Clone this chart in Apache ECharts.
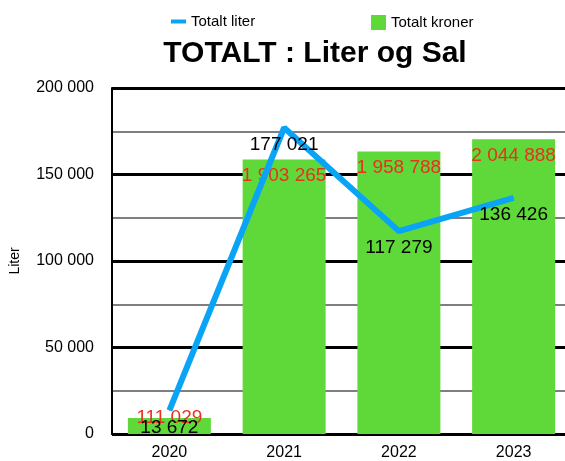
<!DOCTYPE html>
<html><head><meta charset="utf-8">
<script src="https://cdn.jsdelivr.net/npm/echarts@6/dist/echarts.min.js"></script>
<style>html,body{margin:0;padding:0;background:#fff;overflow:hidden}#c{width:571px;height:461px}</style>
</head><body><div id="c"></div>
<script>
const categories = ['2020', '2021', '2022', '2023'];
const literValues = [13672, 177021, 117279, 136426];
const kronerValues = [111029, 1903265, 1958788, 2044888];
const literTicks = [0, 50000, 100000, 150000, 200000];

const fmt = v => String(Math.round(v)).replace(/\B(?=(\d{3})+(?!\d))/g, ' ');
const FONT = 'Liberation Sans, Arial, Helvetica, sans-serif';

const kronerData = kronerValues.map((v, i) => i === 0
  ? { value: v, label: { position: 'top', distance: -9 } }
  : v);

const chart = echarts.init(document.getElementById('c'));
chart.setOption({
  animation: false,
  textStyle: { fontFamily: FONT },
  title: {
    text: 'TOTALT : Liter og Sal',
    left: 310, top: 34, textAlign: 'center',
    textStyle: { fontSize: 30, fontWeight: 'bold', color: '#000', fontFamily: FONT }
  },
  legend: [
    { data: ['Totalt liter'], left: 166, top: 9, icon: 'rect', itemWidth: 15, itemHeight: 4, itemGap: 8,
      textStyle: { fontSize: 15, color: '#000', fontFamily: FONT } },
    { data: ['Totalt kroner'], left: 366, top: 10, icon: 'rect', itemWidth: 15, itemHeight: 15, itemGap: 8,
      textStyle: { fontSize: 15, color: '#000', fontFamily: FONT } }
  ],
  grid: { left: 111, top: 88, width: 460, bottom: 25, containLabel: false },
  xAxis: {
    type: 'category', data: categories,
    axisLine: { lineStyle: { color: '#000', width: 2 } },
    axisTick: { show: false },
    axisLabel: { fontSize: 16, color: '#000', margin: 11, fontFamily: FONT }
  },
  yAxis: [
    { type: 'value', min: literTicks[0], max: literTicks[literTicks.length - 1], interval: 50000,
      name: 'Liter', nameLocation: 'middle', nameGap: 90, nameRotate: 90,
      nameTextStyle: { fontSize: 14, color: '#000', fontFamily: FONT },
      axisLine: { show: true, lineStyle: { color: '#000', width: 2 } },
      axisTick: { show: false },
      axisLabel: { fontSize: 16, color: '#000', margin: 18, formatter: fmt, fontFamily: FONT, padding: [3, 0, 0, 0] },
      splitLine: { lineStyle: { color: '#000', width: 3 } },
      minorTick: { show: false, splitNumber: 2 },
      minorSplitLine: { show: true, lineStyle: { color: '#7f7f7f', width: 2 } }
    },
    { type: 'value', min: 0, max: 2400000, show: false, splitLine: { show: false } }
  ],
  series: [
    { name: 'Totalt kroner', type: 'bar', yAxisIndex: 1, data: kronerData, barWidth: 83,
      itemStyle: { color: '#5fd93a' },
      label: { show: true, position: 'insideTop', distance: 7, color: '#e8311e', fontSize: 19,
        formatter: p => fmt(p.value), fontFamily: FONT } },
    { name: 'Totalt liter', type: 'line', yAxisIndex: 0, data: literValues, z: 5,
      symbol: 'circle', symbolSize: 1,
      lineStyle: { color: '#0aa4f6', width: 6 }, itemStyle: { color: '#0aa4f6' },
      label: { show: true, position: 'bottom', distance: 7, color: '#000', fontSize: 19,
        formatter: p => fmt(p.value), fontFamily: FONT } }
  ]
});
</script></body></html>
